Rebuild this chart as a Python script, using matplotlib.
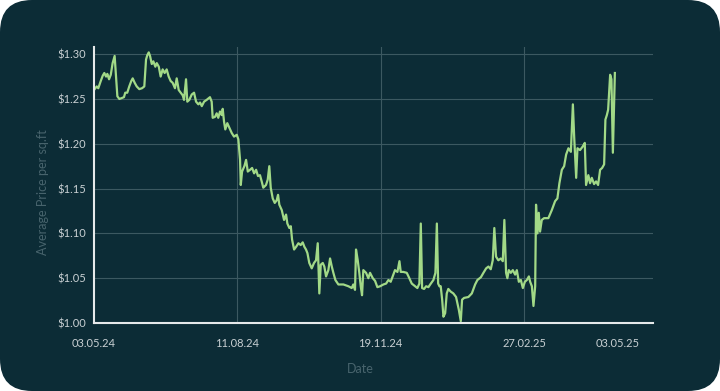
import matplotlib
matplotlib.use("Agg")
import matplotlib.pyplot as plt
from matplotlib.patches import FancyBboxPatch

# ---- data ----
days_since_start = [
    0, 1.9, 3.0, 4.7, 6.1, 7.2, 8.4, 9.3, 10.5, 11.7, 13.0, 14.4, 15.4, 16.3, 17.7, 19.3, 20.9, 21.8, 23.2, 24.6,
    26.0, 27.0, 28.4, 29.8, 31.6, 33.5, 35.1, 36.3, 37.2, 38.2, 39.1, 40.3, 41.4, 42.8, 43.8, 45.2, 46.5, 47.9, 49.3, 50.7,
    52.1, 53.5, 54.9, 56.5, 57.7, 59.1, 60.5, 61.9, 62.8, 64.2, 65.1, 66.5, 68.2, 69.8, 71.2, 72.8, 74.0, 75.2, 76.8, 78.6,
    80.9, 82.1, 82.8, 84.4, 85.6, 86.7, 87.9, 89.1, 89.8, 90.7, 91.6, 93.0, 94.4, 96.1, 97.7, 99.6, 100.7, 101.9, 102.4, 103.3,
    104.9, 106.1, 107.3, 108.9, 110.3, 111.7, 113.1, 114.4, 115.8, 117.0, 118.1, 120.0, 121.2, 122.3, 123.3, 124.7, 126.1, 127.5, 128.4, 129.3,
    131.0, 132.6, 134.0, 134.9, 136.3, 137.3, 138.2, 139.6, 141.0, 142.6, 144.2, 145.6, 146.8, 147.9, 148.9, 150.2, 151.9, 153.5, 154.9, 156.1,
    157.2, 158.2, 159.6, 160.7, 161.9, 163.5, 164.7, 165.9, 167.0, 168.4, 170.5, 174.0, 177.5, 179.8, 180.9, 182.1, 182.8, 184.0, 185.1, 186.1,
    187.0, 187.9, 189.8, 191.4, 192.6, 194.5, 196.1, 197.7, 199.6, 201.9, 203.8, 205.4, 207.0, 208.4, 210.0, 211.7, 213.1, 214.0, 215.8, 218.2,
    220.0, 221.7, 224.0, 225.6, 227.0, 228.0, 228.9, 230.3, 231.7, 233.3, 235.0, 236.8, 238.2, 239.2, 240.1, 241.0, 241.9, 242.9, 243.8, 245.0,
    246.1, 247.2, 248.9, 250.7, 252.6, 254.5, 255.9, 256.8, 258.2, 261.2, 263.6, 265.9, 267.5, 269.9, 271.7, 273.6, 275.2, 276.8, 278.2, 279.3,
    280.5, 282.1, 283.8, 285.2, 286.3, 287.5, 288.4, 289.4, 290.8, 292.2, 293.8, 295.0, 296.4, 297.8, 299.2, 300.6, 302.0, 303.4, 304.3, 305.5,
    306.6, 307.8, 308.4, 309.4, 310.3, 311.2, 312.4, 314.0, 317.0, 319.4, 321.7, 323.3, 324.7, 326.4, 328.0, 329.4, 331.0, 332.7, 334.1, 335.0,
    336.4, 337.3, 339.1, 341.0, 342.4, 343.3, 344.9, 346.1, 347.3, 348.9, 350.3, 351.7, 353.1, 354.5, 355.9, 356.8, 357.8, 358.7, 360.1, 361.0,
    362.0, 363.4,
]
avg_price = [
    1.260, 1.264, 1.262, 1.270, 1.276, 1.279, 1.275, 1.278, 1.272, 1.277, 1.290, 1.298, 1.275, 1.253, 1.250, 1.251, 1.252, 1.257, 1.257, 1.264,
    1.270, 1.273, 1.268, 1.264, 1.261, 1.262, 1.264, 1.294, 1.299, 1.302, 1.298, 1.289, 1.292, 1.286, 1.290, 1.286, 1.275, 1.283, 1.279, 1.283,
    1.275, 1.270, 1.268, 1.262, 1.273, 1.260, 1.257, 1.254, 1.249, 1.272, 1.247, 1.249, 1.255, 1.257, 1.247, 1.244, 1.246, 1.242, 1.247, 1.249,
    1.252, 1.247, 1.229, 1.230, 1.234, 1.229, 1.236, 1.232, 1.239, 1.225, 1.216, 1.223, 1.218, 1.212, 1.208, 1.210, 1.205, 1.182, 1.154, 1.169,
    1.175, 1.182, 1.169, 1.171, 1.173, 1.167, 1.171, 1.164, 1.165, 1.158, 1.151, 1.154, 1.160, 1.175, 1.151, 1.139, 1.134, 1.137, 1.143, 1.132,
    1.126, 1.115, 1.121, 1.111, 1.106, 1.108, 1.093, 1.082, 1.085, 1.089, 1.087, 1.090, 1.085, 1.082, 1.078, 1.067, 1.061, 1.067, 1.070, 1.089,
    1.033, 1.065, 1.067, 1.063, 1.052, 1.059, 1.072, 1.063, 1.056, 1.048, 1.043, 1.043, 1.041, 1.039, 1.043, 1.037, 1.082, 1.070, 1.056, 1.041,
    1.031, 1.059, 1.056, 1.050, 1.056, 1.050, 1.047, 1.040, 1.041, 1.043, 1.044, 1.048, 1.046, 1.052, 1.059, 1.057, 1.069, 1.057, 1.057, 1.056,
    1.050, 1.044, 1.041, 1.039, 1.044, 1.111, 1.039, 1.038, 1.041, 1.040, 1.044, 1.048, 1.056, 1.111, 1.044, 1.041, 1.041, 1.026, 1.007, 1.011,
    1.033, 1.038, 1.035, 1.033, 1.029, 1.015, 1.002, 1.026, 1.028, 1.029, 1.033, 1.043, 1.048, 1.051, 1.056, 1.061, 1.063, 1.060, 1.070, 1.106,
    1.074, 1.070, 1.072, 1.069, 1.115, 1.056, 1.050, 1.059, 1.056, 1.059, 1.054, 1.059, 1.046, 1.048, 1.039, 1.046, 1.048, 1.052, 1.046, 1.041,
    1.019, 1.041, 1.132, 1.100, 1.123, 1.102, 1.115, 1.117, 1.117, 1.126, 1.136, 1.139, 1.156, 1.171, 1.175, 1.188, 1.195, 1.191, 1.244, 1.208,
    1.162, 1.195, 1.193, 1.197, 1.201, 1.154, 1.165, 1.156, 1.162, 1.155, 1.158, 1.154, 1.171, 1.173, 1.177, 1.227, 1.232, 1.238, 1.277, 1.272,
    1.190, 1.279,
]
x_tick_days = [0, 100, 200, 300, 365]
x_tick_labels = ["03.05.24", "11.08.24", "19.11.24", "27.02.25", "03.05.25"]
x_grid_days = [100, 200, 300]
y_ticks = [1.00, 1.05, 1.10, 1.15, 1.20, 1.25, 1.30]
y_tick_labels = ["\\$1.00", "\\$1.05", "\\$1.10", "\\$1.15", "\\$1.20", "\\$1.25", "\\$1.30"]

# ---- styling ----
BG = "#0c2c36"
LINE = "#a2d987"
GRID = "#3c5961"
AXIS = "#e6e9ea"
TICK = "#c9d0d3"
LABEL = "#48646d"

plt.rcParams["font.family"] = ["Lato", "DejaVu Sans"]

fig = plt.figure(figsize=(7.2, 3.91), dpi=100, facecolor="white")
card = FancyBboxPatch((0, 0), 7.2, 3.91, boxstyle="round,pad=0,rounding_size=0.32",
                      transform=fig.dpi_scale_trans, facecolor=BG, edgecolor="none", zorder=0)
fig.add_artist(card)

ax = fig.add_axes([94 / 720, 68 / 391, 559 / 720, 276 / 391])
ax.set_facecolor("none")

ax.plot(days_since_start, avg_price, color=LINE, linewidth=1.6, solid_joinstyle="round", zorder=3)

ax.set_xlim(0, 390)
ax.set_ylim(1.0, 1.308)

for yv in y_ticks[1:]:
    ax.axhline(yv, color=GRID, linewidth=0.8, zorder=1)
for xv in x_grid_days:
    ax.axvline(xv, color=GRID, linewidth=0.8, zorder=1)

ax.set_xticks(x_tick_days)
ax.set_xticklabels(x_tick_labels)
ax.set_yticks(y_ticks)
ax.set_yticklabels(y_tick_labels)
ax.tick_params(axis="both", length=0, colors=TICK, labelsize=8)
ax.tick_params(axis="x", pad=11)
ax.tick_params(axis="y", pad=6)

for s in ["top", "right"]:
    ax.spines[s].set_visible(False)
for s in ["left", "bottom"]:
    ax.spines[s].set_color(AXIS)
    ax.spines[s].set_linewidth(1.5)
    ax.spines[s].set_zorder(4)

fig.text(360 / 720, 1 - 369 / 391, "Date", ha="center", va="center", color=LABEL, fontsize=9)
fig.text(43 / 720, 1 - 192 / 391, "Average Price per sq.ft", ha="center", va="center",
         rotation=90, color=LABEL, fontsize=9)

fig.savefig("out.png", dpi=100, facecolor="white")
